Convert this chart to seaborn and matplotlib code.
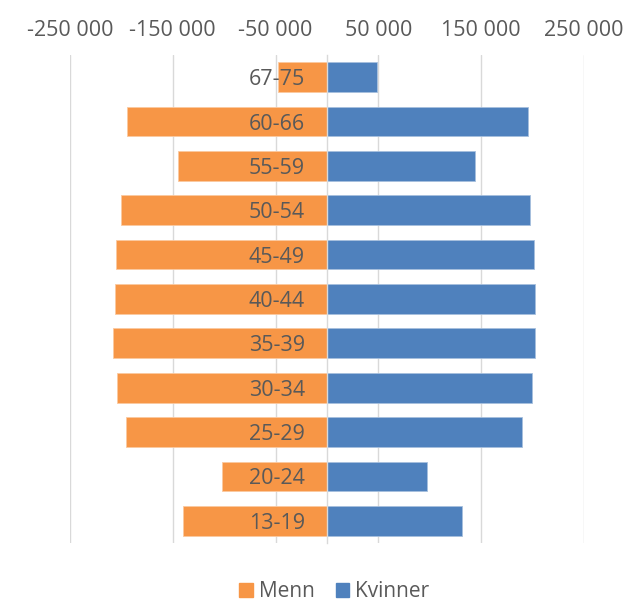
import matplotlib
matplotlib.use('Agg')
import matplotlib.pyplot as plt
from matplotlib.patches import Patch
import pandas as pd
import seaborn as sns

ages = ['67-75', '60-66', '55-59', '50-54', '45-49', '40-44',
        '35-39', '30-34', '25-29', '20-24', '13-19']
menn = [47400, 194600, 144600, 200100, 204900, 206600,
        208100, 204200, 195200, 102600, 139600]
kvinner = [48200, 195800, 143900, 197100, 201000, 201900,
           202300, 199400, 190000, 97100, 131200]
ticks = [-250000, -150000, -50000, 50000, 150000, 250000]

orange = '#F79646'
blue = '#4F81BD'
grey_txt = '#595959'

df = pd.DataFrame({'Alder': ages, 'Menn': [-v for v in menn], 'Kvinner': kvinner})

sns.set_style('white')
plt.rcParams['font.family'] = ['Open Sans', 'DejaVu Sans']

fig = plt.figure(figsize=(6.25, 6.05), dpi=100)
ax = fig.add_axes([0.112, 0.1025, 0.8224, 0.8066])

sns.barplot(data=df, x='Menn', y='Alder', order=ages, color=orange, orient='h',
            width=0.67, errorbar=None, saturation=1, edgecolor='#FBC9A0', linewidth=0.6, ax=ax)
sns.barplot(data=df, x='Kvinner', y='Alder', order=ages, color=blue, orient='h',
            width=0.67, errorbar=None, saturation=1, edgecolor='#A7C0DE', linewidth=0.6, ax=ax)

ax.set_xlim(-250000, 250000)
ax.set_ylim(10.5, -0.5)
ax.set_xticks(ticks)
ax.set_xticklabels([f'{t:,}'.replace(',', ' ') for t in ticks])
ax.xaxis.tick_top()
ax.tick_params(axis='x', length=0, pad=10, labelsize=15.5, labelcolor=grey_txt)
ax.grid(axis='x', color='#D9D9D9', linewidth=1)
ax.xaxis.set_zorder(0.5)

# category labels sit next to the zero axis, inside the orange bars
ax.spines['left'].set_position(('data', 0))
ax.spines['left'].set_color('#D9D9D9')
ax.spines['left'].set_linewidth(1)
ax.spines['left'].set_zorder(3)
for s in ['top', 'right', 'bottom']:
    ax.spines[s].set_visible(False)
ax.tick_params(axis='y', length=0, pad=16, labelsize=15.5, labelcolor=grey_txt)
ax.yaxis.set_zorder(5)
ax.set_xlabel('')
ax.set_ylabel('')

handles = [Patch(color=orange, label='Menn'), Patch(color=blue, label='Kvinner')]
fig.legend(handles=handles, loc='center', bbox_to_anchor=(0.535, 0.022), ncol=2,
           frameon=False, fontsize=15, labelcolor=grey_txt, handlelength=0.65,
           handleheight=0.65, handletextpad=0.3, columnspacing=1.0,
           borderpad=0.2)

fig.savefig('out.png', dpi=100)
